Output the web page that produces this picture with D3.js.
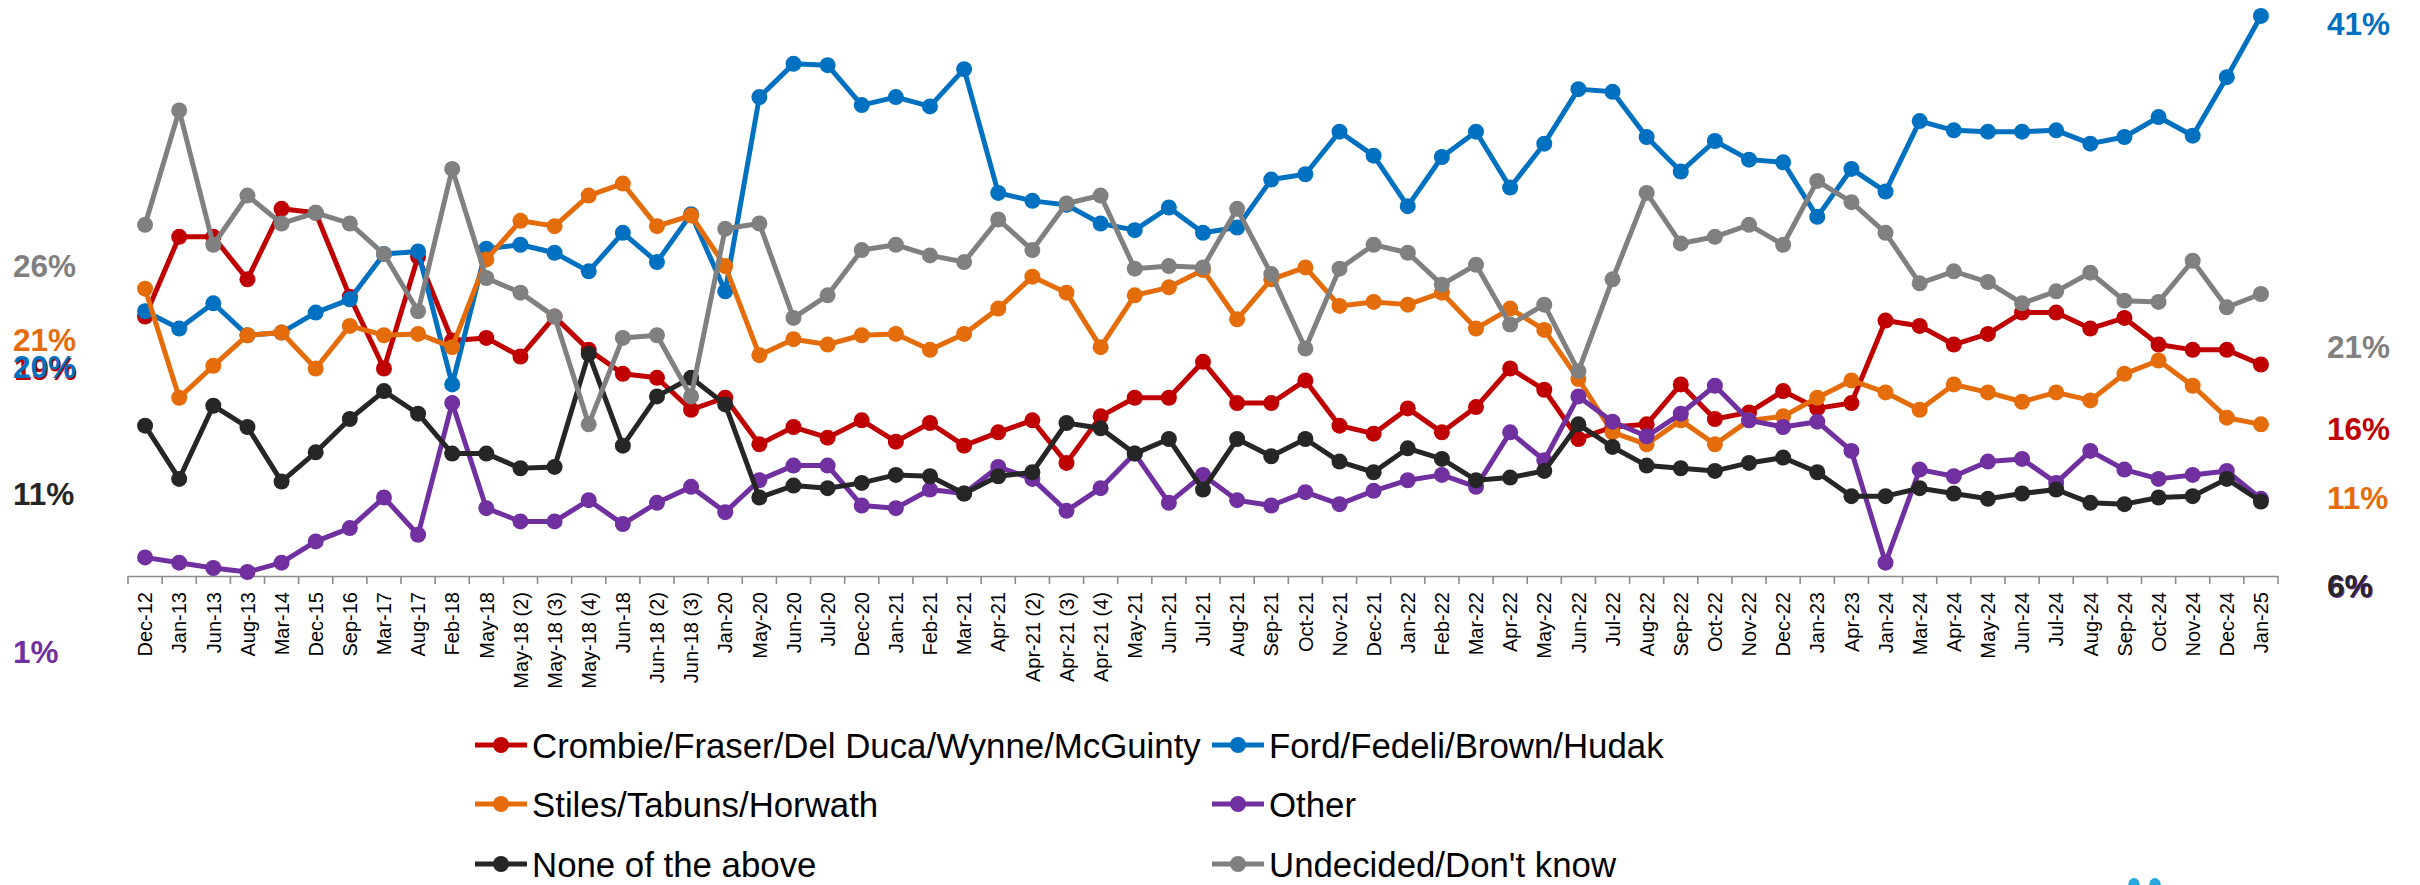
<!DOCTYPE html>
<html>
<head>
<meta charset="utf-8">
<script src="https://cdn.jsdelivr.net/npm/d3@7"></script>
<style>
  html, body { margin: 0; padding: 0; background: #ffffff; }
  svg { display: block; }
</style>
</head>
<body>
<svg id="chart" width="2420" height="885"></svg>
<script>
// ---------------- DATA ----------------
const categories = ["Dec-12","Jan-13","Jun-13","Aug-13","Mar-14","Dec-15","Sep-16","Mar-17","Aug-17","Feb-18",
  "May-18","May-18 (2)","May-18 (3)","May-18 (4)","Jun-18","Jun-18 (2)","Jun-18 (3)","Jan-20","May-20","Jun-20",
  "Jul-20","Dec-20","Jan-21","Feb-21","Mar-21","Apr-21","Apr-21 (2)","Apr-21 (3)","Apr-21 (4)","May-21",
  "Jun-21","Jul-21","Aug-21","Sep-21","Oct-21","Nov-21","Dec-21","Jan-22","Feb-22","Mar-22",
  "Apr-22","May-22","Jun-22","Jul-22","Aug-22","Sep-22","Oct-22","Nov-22","Dec-22","Jan-23",
  "Apr-23","Jan-24","Mar-24","Apr-24","May-24","Jun-24","Jul-24","Aug-24","Sep-24","Oct-24",
  "Nov-24","Dec-24","Jan-25"];

const seriesNames = ["Crombie/Fraser/Del Duca/Wynne/McGuinty","Ford/Fedeli/Brown/Hudak","Stiles/Tabuns/Horwath",
  "Other","None of the above","Undecided/Don't know"];

const liberal = [19.5,25.5,25.5,22.3,27.6,27.3,21.0,15.6,24.0,17.7,
  17.9,16.5,19.5,17.0,15.2,14.9,12.5,13.4,9.9,11.2,
  10.4,11.7,10.1,11.5,9.8,10.8,11.7,8.5,12.0,13.4,
  13.4,16.1,13.0,13.0,14.7,11.3,10.7,12.6,10.8,12.7,
  15.6,14.0,10.3,11.2,11.4,14.4,11.8,12.3,13.9,12.6,
  13.0,19.2,18.8,17.4,18.2,19.8,19.8,18.6,19.4,17.4,
  17.0,17.0,15.9];

const pc = [19.9,18.6,20.5,18.1,18.3,19.8,20.8,24.2,24.4,14.4,
  24.6,24.9,24.3,22.9,25.8,23.6,27.2,21.4,36.0,38.5,
  38.4,35.4,36.0,35.3,38.1,28.8,28.2,27.9,26.5,26.0,
  27.7,25.8,26.2,29.8,30.2,33.4,31.6,27.8,31.5,33.4,
  29.2,32.5,36.6,36.4,33.0,30.4,32.7,31.3,31.1,27.0,
  30.6,28.9,34.2,33.5,33.4,33.4,33.5,32.5,33.0,34.5,
  33.1,37.5,42.1];

const ndp = [21.6,13.4,15.8,18.1,18.3,15.6,18.8,18.1,18.2,17.2,
  23.8,26.7,26.3,28.6,29.5,26.3,27.1,23.3,16.6,17.8,
  17.4,18.1,18.2,17.0,18.2,20.1,22.5,21.3,17.2,21.1,
  21.7,23.0,19.3,22.3,23.2,20.3,20.6,20.4,21.3,18.6,
  20.1,18.5,14.8,10.8,9.9,11.7,9.9,11.7,12.0,13.4,
  14.7,13.8,12.5,14.4,13.8,13.1,13.8,13.2,15.2,16.2,
  14.3,11.9,11.4];

const other = [1.4,1.0,0.6,0.3,1.0,2.6,3.6,5.9,3.1,13.0,
  5.1,4.1,4.1,5.7,3.9,5.5,6.7,4.8,7.2,8.3,
  8.3,5.3,5.1,6.5,6.2,8.2,7.3,4.9,6.6,9.2,
  5.5,7.6,5.7,5.3,6.3,5.4,6.4,7.2,7.6,6.7,
  10.8,8.7,13.5,11.6,10.5,12.2,14.3,11.7,11.2,11.6,
  9.4,1.0,8.0,7.5,8.6,8.8,7.0,9.4,8.0,7.3,
  7.6,7.9,5.8];

const noneAbove = [11.3,7.3,12.8,11.2,7.1,9.3,11.8,13.9,12.2,9.2,
  9.2,8.1,8.2,16.7,9.8,13.5,14.9,12.9,5.9,6.8,
  6.6,7.0,7.6,7.5,6.2,7.5,7.8,11.5,11.1,9.2,
  10.3,6.5,10.3,9.0,10.3,8.6,7.8,9.6,8.8,7.2,
  7.4,7.9,11.4,9.7,8.3,8.1,7.9,8.5,8.9,7.8,
  6.0,6.0,6.6,6.2,5.8,6.2,6.5,5.5,5.4,5.9,
  6.0,7.3,5.6];

const undecided = [26.4,35.0,24.9,28.6,26.5,27.3,26.5,24.2,19.9,30.6,
  22.4,21.3,19.5,11.4,17.9,18.1,13.5,26.1,26.5,19.4,
  21.1,24.5,24.9,24.1,23.6,26.8,24.5,28.0,28.6,23.1,
  23.3,23.2,27.6,22.7,17.1,23.1,24.9,24.3,21.9,23.4,
  18.9,20.4,15.4,22.3,28.8,25.0,25.5,26.4,24.9,29.7,
  28.1,25.8,22.0,22.9,22.1,20.5,21.4,22.8,20.7,20.6,
  23.7,20.2,21.2];

const leftLabelTexts = ["26%","21%","19%","20%","11%","1%"];
const rightLabelTexts = ["41%","21%","16%","11%","6%","6%"];

// ---------------- STYLE ----------------
const colors = ["#C00000","#0070C0","#E46C0A","#7030A0","#262626","#808080"];
const seriesValues = [liberal, pc, ndp, other, noneAbove, undecided];

const svg = d3.select("#chart");
svg.append("rect").attr("width",2420).attr("height",885).attr("fill","#ffffff");

const x = d3.scaleBand().domain(categories).range([128, 2278]).padding(0);
const y = d3.scaleLinear().domain([0, 43.3]).range([576, 0]);
const cx = c => x(c) + x.bandwidth()/2;

// x axis (labels)
const axisG = svg.append("g").attr("transform","translate(0,576)");
axisG.call(d3.axisBottom(x).tickSize(0).tickPadding(0));
axisG.select(".domain").attr("stroke","#8c8c8c").attr("stroke-width",1.6);
axisG.selectAll(".tick text")
  .attr("transform","rotate(-90)")
  .attr("text-anchor","end")
  .attr("x",-16).attr("y",0).attr("dy","0.36em")
  .attr("font-family","'Liberation Sans', Arial, sans-serif")
  .attr("font-size",20).attr("fill","#000000");
// boundary tick marks
const edges = categories.map(c => x(c)).concat([x.range()[1]]);
axisG.selectAll("line.edge").data(edges).enter().append("line")
  .attr("class","edge").attr("x1",d=>d).attr("x2",d=>d).attr("y1",0).attr("y2",8)
  .attr("stroke","#8c8c8c").attr("stroke-width",1.6);

// series
const line = d3.line().x((d,i)=>cx(categories[i])).y(d=>y(d));
seriesValues.forEach((vals, s) => {
  const g = svg.append("g");
  g.append("path").datum(vals).attr("d", line).attr("fill","none")
    .attr("stroke", colors[s]).attr("stroke-width",5).attr("stroke-linejoin","round");
  g.selectAll("circle").data(vals).enter().append("circle")
    .attr("cx",(d,i)=>cx(categories[i])).attr("cy",d=>y(d)).attr("r",8)
    .attr("fill",colors[s]);
});

// left labels
const lblFont = "'Liberation Sans', Arial, sans-serif";
const leftY = [266, 340, 369, 367, 494, 652];
const leftCol = [colors[5], colors[2], colors[0], colors[1], colors[4], colors[3]];
const leftDx = [0, 0, 1, 0, 0, 0];
leftLabelTexts.forEach((t,i) => {
  svg.append("text").attr("x",13+leftDx[i]).attr("y",leftY[i]).attr("dy","0.36em")
    .attr("font-family",lblFont).attr("font-weight","bold").attr("font-size",31.5)
    .attr("fill",leftCol[i]).text(t);
});
// right labels
const rightY = [24, 347, 429, 498, 587, 586];
const rightCol = [colors[1], colors[5], colors[0], colors[2], colors[3], colors[4]];
const rightDx = [0, 0, 0, 0, 1, 0];
rightLabelTexts.forEach((t,i) => {
  svg.append("text").attr("x",2327+rightDx[i]).attr("y",rightY[i]).attr("dy","0.36em")
    .attr("font-family",lblFont).attr("font-weight","bold").attr("font-size",31.5)
    .attr("fill",rightCol[i]).text(t);
});

// legend
const legX = [475, 1212];
const legY = [745, 804, 864];
seriesNames.forEach((name, s) => {
  const col = s % 2, row = Math.floor(s/2);
  const g = svg.append("g").attr("transform",`translate(${legX[col]},${legY[row]})`);
  g.append("line").attr("x1",0).attr("x2",52).attr("y1",0).attr("y2",0)
    .attr("stroke",colors[s]).attr("stroke-width",5);
  g.append("circle").attr("cx",26).attr("cy",0).attr("r",8).attr("fill",colors[s]);
  g.append("text").attr("x",57).attr("y",0).attr("dy","0.36em")
    .attr("font-family",lblFont).attr("font-size",34.8).attr("fill","#000000").text(name);
});

// partially visible logo marks at bottom edge
svg.append("ellipse").attr("cx",2134).attr("cy",886).attr("rx",6).attr("ry",8).attr("fill","#29A8E0");
svg.append("ellipse").attr("cx",2155).attr("cy",886).attr("rx",6).attr("ry",8).attr("fill","#29A8E0");
</script>
</body>
</html>
